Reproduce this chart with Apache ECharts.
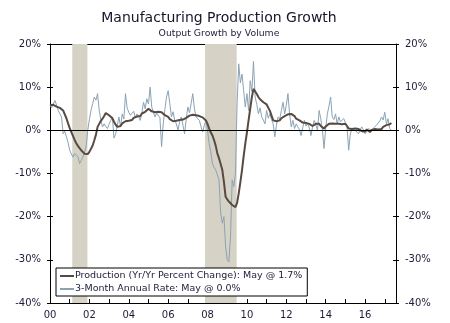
<!DOCTYPE html>
<html>
<head>
<meta charset="utf-8">
<script src="https://cdn.jsdelivr.net/npm/echarts@6/dist/echarts.min.js"></script>
<style>
  html, body { margin: 0; padding: 0; background: #fff; }
  #chart { width: 450px; height: 323px; }
</style>
</head>
<body>
<div id="chart"></div>
<script>
// Monthly manufacturing output, Jan 2000 through May 2017 (percent)
const firstYear = 2000;

// Year-over-year percent change
const production = [
  5.8, 5.5, 5.9, 5.6, 5.5, 5.6, 5.2, 5.0, 4.6, 3.7, 2.8, 1.6,
  0.5, -0.4, -1.3, -2.2, -3.0, -3.6, -4.1, -4.6, -5.0, -5.4, -5.3, -5.5,
  -5.0, -4.6, -3.5, -2.3, -1.0, 0.8, 1.5, 2.2, 2.7, 3.3, 4.0, 3.7,
  3.5, 3.1, 2.8, 2.0, 1.3, 0.8, 0.4, 1.0, 1.6, 1.8, 2.1, 2.3,
  2.2, 2.6, 2.4, 2.9, 2.7, 3.2, 3.5, 3.3, 3.9, 3.7, 4.3, 4.6,
  5.0, 4.7, 4.4, 4.6, 4.2, 3.9, 4.3, 4.0, 4.2, 3.8, 3.5, 3.3,
  3.1, 2.6, 2.3, 2.1, 1.9, 2.2, 2.0, 2.4, 2.1, 2.5, 2.7, 2.9,
  3.1, 3.4, 3.2, 3.6, 3.8, 3.5, 3.7, 3.3, 3.5, 3.0, 2.8, 2.3,
  1.5, 0.4, -0.5, -1.2, -2.3, -3.6, -5.4, -6.5, -7.8, -9.2, -12.0, -15.4,
  -16.0, -16.5, -16.9, -17.3, -17.5, -17.8, -16.8, -14.6, -12.0, -9.2, -6.0, -3.1,
  -0.5, 2.3, 5.0, 7.7, 9.6, 9.2, 8.4, 7.7, 7.2, 6.8, 6.5, 6.2,
  6.0, 5.8, 4.5, 3.4, 2.3, 2.5, 2.1, 2.4, 2.3, 2.8, 3.1, 3.3,
  3.5, 3.7, 3.4, 3.8, 3.8, 3.3, 2.7, 2.9, 2.3, 2.0, 1.8, 1.5,
  1.7, 1.3, 1.5, 1.2, 1.0, 1.4, 1.5, 1.2, 1.5, 1.0, 0.8, 0.4,
  0.9, 1.2, 1.5, 1.3, 1.6, 1.8, 1.5, 1.4, 1.5, 1.7, 1.4, 1.5,
  1.5, 1.0, 0.4, 0.6, 0.3, 0.4, 0.4, 0.7, 0.3, 0.1, -0.2, -0.3,
  -0.3, 0.2, -0.1, -0.4, 0.1, 0.2, 0.3, 0.0, 0.2, 0.4, 0.3, 0.8,
  0.9, 1.2, 1.1, 1.4, 1.7
];

// 3-month annualized rate
const threeMonthRate = [
  5.8, 5.2, 5.5, 6.9, 5.9, 4.6, 4.8, 3.1, -0.8, -0.2, -1.5, -2.8,
  -4.6, -5.5, -6.2, -5.4, -5.0, -6.1, -7.7, -7.0, -6.2, -5.1, -3.8, 0.0,
  2.5, 4.6, 6.2, 7.7, 7.0, 8.5, 4.6, 2.4, 0.8, 1.5, 0.9, 0.4,
  1.4, 2.3, 3.1, -1.8, -0.9, -1.2, 3.1, 0.8, 3.8, 2.6, 8.5, 5.2,
  4.2, 3.5, 3.1, 4.4, 2.9, 3.8, 3.3, 2.3, 4.1, 6.5, 5.0, 7.3,
  6.1, 10.0, 5.4, 4.2, 3.1, 4.0, 3.8, 2.9, -3.8, 1.5, 4.8, 7.7,
  9.2, 6.2, 3.1, 4.3, 2.3, 1.5, 0.0, 2.0, 3.1, 1.2, -0.8, 2.6,
  5.4, 4.1, 6.2, 8.5, 5.0, 3.1, 2.9, 2.3, 0.9, -0.4, 1.1, 2.3,
  0.0, -3.1, -5.0, -7.7, -8.6, -9.2, -10.3, -11.5, -19.2, -21.5, -20.0, -26.9,
  -30.0, -30.5, -24.6, -11.5, -13.0, -10.0, 6.2, 15.4, 11.0, 13.0, 9.2, 5.4,
  8.5, 4.6, 11.5, 9.0, 16.0, 7.7, 6.0, 3.8, 5.2, 3.1, 2.4, 1.5,
  4.6, 2.8, 3.8, 2.5, 1.5, -1.5, 1.2, 3.1, 2.6, 4.6, 6.5, 3.8,
  5.8, 8.5, 3.8, 0.8, 2.3, 0.4, 1.5, 0.8, 0.2, -1.2, 0.6, 2.3,
  1.0, 1.5, 0.6, -1.2, 0.8, 2.3, 1.3, 0.0, 4.6, 2.7, 0.0, -4.2,
  0.5, 3.8, 5.6, 7.7, 3.1, 2.5, 3.8, 1.5, 3.1, 2.0, 1.9, 2.7,
  1.8, 0.8, -4.6, -0.8, 0.4, 0.2, 0.0, -0.3, -0.8, 0.2, 0.8, 0.1,
  -0.8, -0.2, 0.4, 0.1, 0.0, 0.5, 0.8, 1.2, 1.5, 2.2, 3.1, 2.4,
  4.2, 1.5, 2.7, 0.4, 0.0
];

// Recession periods, in years after Jan 2000
const recessionStart = [1.13, 7.87];
const recessionEnd = [1.90, 9.48];

// Axis ticks
const yTickValues = [-40, -30, -20, -10, 0, 10, 20];
const xTickLabels = ['00', '02', '04', '06', '08', '10', '12', '14', '16'];

const seriesNames = [
  'Production (Yr/Yr Percent Change): May @ 1.7%',
  '3-Month Annual Rate: May @ 0.0%'
];

const FONT = 'DejaVu Sans';
const TEXT = '#1c1c38';
const X_MAX = 17.57;

const toPoints = vals => vals.map((v, i) => [i / 12, v]);

const yMin = yTickValues[0];
const yMax = yTickValues[yTickValues.length - 1];
const yStep = yTickValues[1] - yTickValues[0];

const yLabel = {
  show: true, fontFamily: FONT, fontSize: 10, color: TEXT, margin: 9,
  formatter: v => v + '%'
};

function yAxisPair(position) {
  return [
    {
      type: 'value', position: position, min: yMin, max: yMax, interval: yStep,
      axisLine: { show: true, lineStyle: { color: '#000', width: 1 } },
      axisTick: { show: true, inside: false, length: 3, lineStyle: { color: '#000' } },
      axisLabel: yLabel,
      splitLine: { show: false }
    },
    {
      type: 'value', position: position, min: yMin, max: yMax, interval: yStep,
      axisLine: { show: false },
      axisTick: { show: true, inside: true, length: 3, lineStyle: { color: '#000' } },
      axisLabel: { show: false },
      splitLine: { show: false }
    }
  ];
}

const chart = echarts.init(document.getElementById('chart'), null, { renderer: 'canvas' });

chart.setOption({
  animation: false,
  backgroundColor: '#fff',
  title: [
    {
      text: 'Manufacturing Production Growth',
      left: 214, top: 6, textAlign: 'center',
      textStyle: { fontFamily: FONT, fontSize: 14, fontWeight: 'normal', color: '#15152a' }
    },
    {
      text: 'Output Growth by Volume',
      left: 214, top: 24, textAlign: 'center',
      textStyle: { fontFamily: FONT, fontSize: 9.3, fontWeight: 'normal', color: TEXT }
    }
  ],
  grid: { left: 50, right: 54, top: 44, bottom: 20, containLabel: false },
  xAxis: [
    {
      type: 'value', position: 'bottom', min: 0, max: X_MAX, interval: 1,
      axisLine: { show: true, onZero: false, lineStyle: { color: '#000', width: 1 } },
      axisTick: { show: true, inside: true, length: 4, lineStyle: { color: '#000' } },
      axisLabel: {
        fontFamily: FONT, fontSize: 10, color: TEXT, margin: 7,
        showMaxLabel: false,
        formatter: v => {
          const i = xTickLabels.indexOf(String(Math.round(v)).padStart(2, '0'));
          return (Math.abs(v - Math.round(v)) < 1e-6 && i >= 0) ? xTickLabels[i] : '';
        }
      },
      splitLine: { show: false }
    },
    {
      type: 'value', position: 'top', min: 0, max: X_MAX,
      axisLine: { show: true, onZero: false, lineStyle: { color: '#000', width: 1 } },
      axisTick: { show: false },
      axisLabel: { show: false },
      splitLine: { show: false }
    }
  ],
  yAxis: [...yAxisPair('left'), ...yAxisPair('right')],
  legend: {
    data: seriesNames,
    orient: 'vertical',
    left: 56, top: 268,
    padding: [3, 5, 2, 3],
    itemGap: 3,
    itemWidth: 14,
    itemHeight: 9,
    borderColor: '#000',
    borderWidth: 1,
    backgroundColor: '#fff',
    itemStyle: { opacity: 0 },
    textStyle: { fontFamily: FONT, fontSize: 9.5, color: TEXT, padding: [0, 0, 0, -4] }
  },
  series: [
    {
      name: 'Recessions',
      type: 'line',
      data: [],
      z: 1,
      silent: true,
      markArea: {
        silent: true,
        itemStyle: { color: '#d6d2c6' },
        data: recessionStart.map((s, i) => [{ xAxis: s }, { xAxis: recessionEnd[i] }])
      },
      markLine: {
        silent: true,
        symbol: 'none',
        label: { show: false },
        lineStyle: { color: '#000', width: 1, type: 'solid' },
        data: [{ yAxis: 0 }]
      }
    },
    {
      name: seriesNames[1],
      type: 'line',
      data: toPoints(threeMonthRate),
      symbol: 'none',
      z: 2,
      lineStyle: { color: '#8aa3b5', width: 1 },
      itemStyle: { color: '#8aa3b5' }
    },
    {
      name: seriesNames[0],
      type: 'line',
      data: toPoints(production),
      symbol: 'none',
      z: 3,
      lineStyle: { color: '#574a42', width: 2 },
      itemStyle: { color: '#574a42' }
    }
  ]
});
</script>
</body>
</html>
